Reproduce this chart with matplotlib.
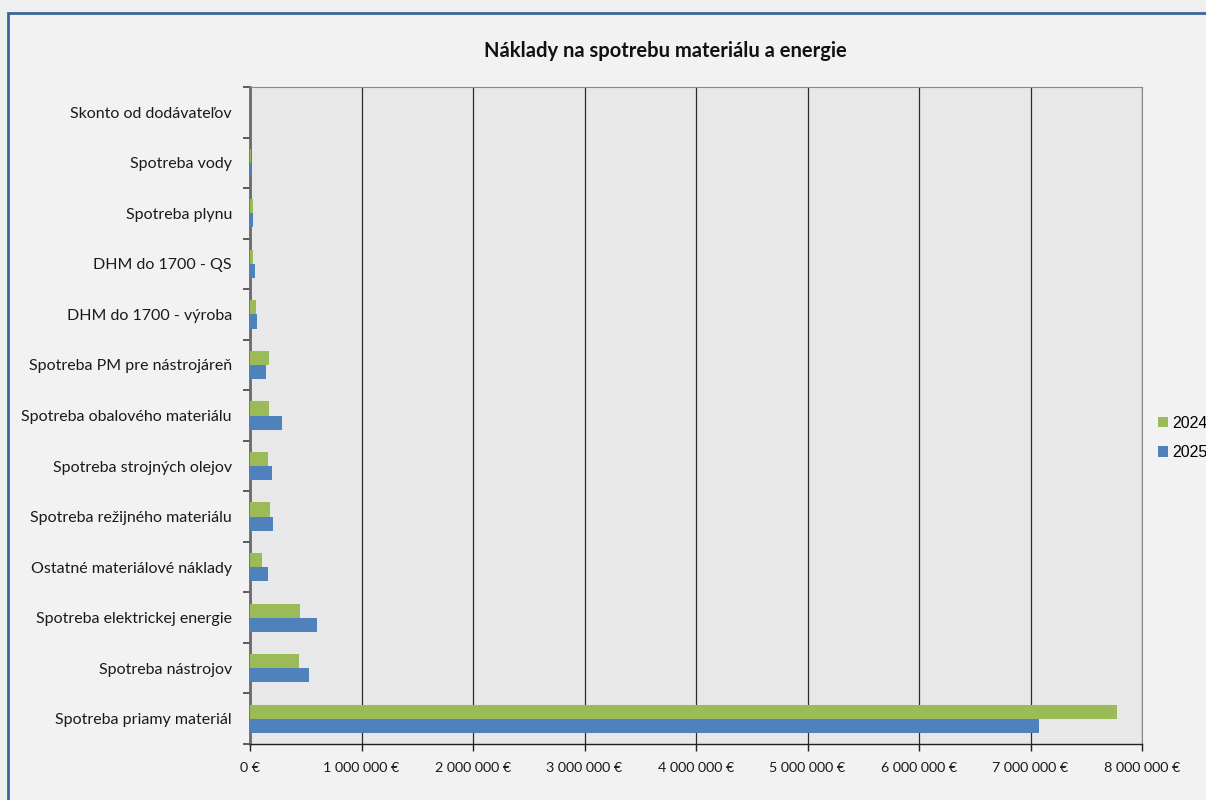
import matplotlib.pyplot as plt
from matplotlib.patches import Rectangle
from matplotlib.ticker import FuncFormatter, MultipleLocator

# cost categories, bottom to top
categories = [
    "Spotreba priamy materiál",
    "Spotreba nástrojov",
    "Spotreba elektrickej energie",
    "Ostatné materiálové náklady",
    "Spotreba režijného materiálu",
    "Spotreba strojných olejov",
    "Spotreba obalového materiálu",
    "Spotreba PM pre nástrojáreň",
    "DHM do 1700 - výroba",
    "DHM do 1700 - QS",
    "Spotreba plynu",
    "Spotreba vody",
    "Skonto od dodávateľov",
]
costs_2024 = [7780000, 440000, 450000, 110000, 180000, 160000, 170000,
              170000, 50000, 30000, 24000, 12000, 0]
costs_2025 = [7080000, 530000, 600000, 160000, 210000, 200000, 290000,
              140000, 60000, 45000, 24000, 12000, 0]

green = "#9bbb59"
blue = "#4f81bd"

fig = plt.figure(figsize=(12.06, 8.0), dpi=100)
fig.patch.set_facecolor("#efefef")
W, H = 1206, 800

# chart frame
fig.patches.append(Rectangle((8 / W, -0.05), 1.1, 1 - 13 / H + 0.05,
                             transform=fig.transFigure, facecolor="#f2f2f2",
                             edgecolor="#3c6698", linewidth=2, zorder=-5))

ax = fig.add_axes([250 / W, 1 - 744 / H, (1142 - 250) / W, (744 - 87) / H])
ax.set_facecolor("#e8e8e8")

y = list(range(len(categories)))
h = 0.28
ax.barh([v + h / 2 for v in y], costs_2024, height=h, color=green,
        linewidth=0, label="2024", zorder=3)
ax.barh([v - h / 2 for v in y], costs_2025, height=h, color=blue,
        linewidth=0, label="2025", zorder=3)

ax.set_xlim(0, 8000000)
ax.set_ylim(-0.5, len(categories) - 0.5)
ax.xaxis.set_major_locator(MultipleLocator(1000000))
ax.xaxis.set_major_formatter(FuncFormatter(
    lambda v, p: "{:,.0f} €".format(v).replace(",", " ")))
ax.grid(axis="x", color="#2b2b2b", linewidth=0.9, zorder=1)

ax.set_yticks(y)
ax.set_yticklabels(categories)
ax.set_yticks([v - 0.5 for v in range(len(categories) + 1)], minor=True)
ax.tick_params(axis="y", which="major", length=0, pad=13, labelsize=11.5,
               labelcolor="#1a1a1a")
ax.tick_params(axis="y", which="minor", length=5, width=1.2, color="#404040")
ax.tick_params(axis="x", length=5, width=1, color="#202020", pad=8,
               labelsize=10.3, labelcolor="#1a1a1a")

for side in ("top", "right"):
    ax.spines[side].set_color("#8a8a8a")
    ax.spines[side].set_linewidth(0.8)
ax.spines["left"].set_color("#6a6a6a")
ax.spines["left"].set_linewidth(2)
ax.spines["bottom"].set_color("#202020")
ax.spines["bottom"].set_linewidth(1)

for lab in ax.get_yticklabels() + ax.get_xticklabels():
    lab.set_family("Lato")

fig.text(665 / W, 1 - 51 / H, "Náklady na spotrebu materiálu a energie",
         ha="center", va="center", fontsize=14.5, fontweight="bold",
         family="Lato", color="#111111")

fig.legend(loc="center left", bbox_to_anchor=(1150 / W, 1 - 438 / H),
           frameon=False, handlelength=0.6, handleheight=0.6,
           handletextpad=0.3, labelspacing=0.9, borderpad=0,
           prop={"family": "Liberation Sans", "size": 11.5})

fig.savefig("out.png", dpi=100, facecolor=fig.get_facecolor())
